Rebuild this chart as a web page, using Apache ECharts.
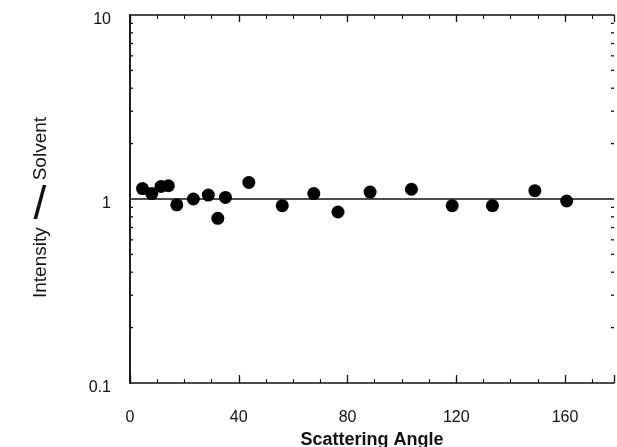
<!DOCTYPE html>
<html>
<head>
<meta charset="utf-8">
<script src="https://cdn.jsdelivr.net/npm/echarts@6/dist/echarts.min.js"></script>
<style>
  html, body { margin: 0; padding: 0; background: #fff; }
  #chart { width: 617px; height: 447px; }
</style>
</head>
<body>
<div id="chart"></div>
<script>
// Measured intensity ratio against scattering angle
const angles = [4.6, 8.0, 11.4, 14.1, 17.2, 23.3, 28.8, 32.3, 35.1, 43.7, 56.0, 67.6, 76.5, 88.3, 103.5, 118.5, 133.3, 148.9, 160.6];
const ratios = [1.14, 1.07, 1.17, 1.18, 0.93, 1.00, 1.05, 0.785, 1.02, 1.23, 0.92, 1.07, 0.85, 1.09, 1.13, 0.92, 0.92, 1.11, 0.975];

// Reference level (ratio = 1)
const referenceLevel = 1;

// Axis ranges and ticks
const xMin = 0;
const xMax = 178;
const xStep = 40;
const yMin = 0.1;
const yMax = 10;
const yTickLabels = ['0.1', '1', '10'];
// Log-decade minor tick positions
const yMinorTicks = [0.2, 0.3, 0.4, 0.5, 0.6, 0.7, 0.8, 0.9, 2, 3, 4, 5, 6, 7, 8, 9];

const FONT = '"Liberation Sans", Arial, Helvetica, sans-serif';
const INK = '#111';

const chart = echarts.init(document.getElementById('chart'), null, { renderer: 'canvas' });

const frameLine = { show: true, lineStyle: { color: INK, width: 1.5 } };
const titleToken = { fontFamily: FONT, fontSize: 19, color: INK, lineHeight: 22 };

chart.setOption({
  animation: false,
  backgroundColor: '#fff',
  grid: { left: 130, right: 3, top: 15, bottom: 64, containLabel: false, outerBoundsMode: 'none' },
  // upright oblique stroke between the two words of the vertical title
  graphic: [
    {
      type: 'text', x: 40, y: 206, silent: true,
      style: {
        text: '/', font: '46px ' + FONT, fill: INK,
        textAlign: 'center', textVerticalAlign: 'middle'
      }
    }
  ],
  xAxis: [
    {
      type: 'value', min: xMin, max: xMax, interval: xStep,
      name: 'Scattering Angle', nameLocation: 'middle', nameGap: 40,
      nameTextStyle: { fontFamily: FONT, fontSize: 18, fontWeight: 'bold', color: INK },
      axisLine: frameLine,
      axisTick: { inside: true, length: 8, lineStyle: { color: INK, width: 1.3 } },
      minorTick: { show: true, splitNumber: 4, length: 4, lineStyle: { color: INK, width: 1.1 } },
      axisLabel: { fontFamily: FONT, fontSize: 16, color: INK, margin: 27, showMaxLabel: false },
      splitLine: { show: false }
    },
    {
      type: 'value', position: 'top', min: xMin, max: xMax, interval: xStep,
      axisLine: frameLine,
      axisTick: { inside: true, length: 7, lineStyle: { color: INK, width: 1.3 } },
      minorTick: { show: true, splitNumber: 4, length: 4, lineStyle: { color: INK, width: 1.1 } },
      axisLabel: { show: false },
      splitLine: { show: false }
    }
  ],
  yAxis: [
    {
      type: 'log', logBase: 10, min: yMin, max: yMax,
      name: '{n|Intensity}{e|Solvent}', nameLocation: 'middle', nameGap: 78,
      nameTextStyle: {
        fontFamily: FONT, fontSize: 19, color: INK,
        rich: {
          n: titleToken,
          e: Object.assign({}, titleToken, { padding: [0, 17, 0, 47] })
        }
      },
      axisLine: frameLine,
      axisTick: { show: false },
      axisLabel: {
        fontFamily: FONT, fontSize: 16, color: INK, margin: 19,
        verticalAlign: 'top', lineHeight: 10,
        formatter: (v) => yTickLabels[Math.round(Math.log10(v)) + 1]
      },
      splitLine: { show: false }
    },
    {
      type: 'log', logBase: 10, min: yMin, max: yMax, position: 'right',
      axisLine: frameLine,
      axisTick: { show: false },
      axisLabel: { show: false },
      splitLine: { show: false }
    }
  ],
  series: [
    {
      // short inner tick marks on both vertical frame edges
      type: 'custom',
      silent: true,
      clip: false,
      data: yMinorTicks.map(v => [xMin, v]),
      renderItem: (params, api) => {
        const v = api.value(1);
        const l = api.coord([xMin, v]);
        const r = api.coord([xMax, v]);
        const style = { stroke: INK, lineWidth: 1.3 };
        return {
          type: 'group',
          children: [
            { type: 'line', shape: { x1: l[0], y1: l[1], x2: l[0] + 3, y2: l[1] }, style },
            { type: 'line', shape: { x1: r[0], y1: r[1], x2: r[0] - 3, y2: r[1] }, style }
          ]
        };
      }
    },
    {
      type: 'line',
      data: [[xMin, referenceLevel], [xMax, referenceLevel]],
      symbol: 'none',
      lineStyle: { color: INK, width: 1.5 },
      silent: true,
      z: 2
    },
    {
      type: 'scatter',
      data: angles.map((a, i) => [a, ratios[i]]),
      symbol: 'circle',
      symbolSize: 13,
      itemStyle: { color: '#000', opacity: 1 },
      z: 3
    }
  ]
});
</script>
</body>
</html>
